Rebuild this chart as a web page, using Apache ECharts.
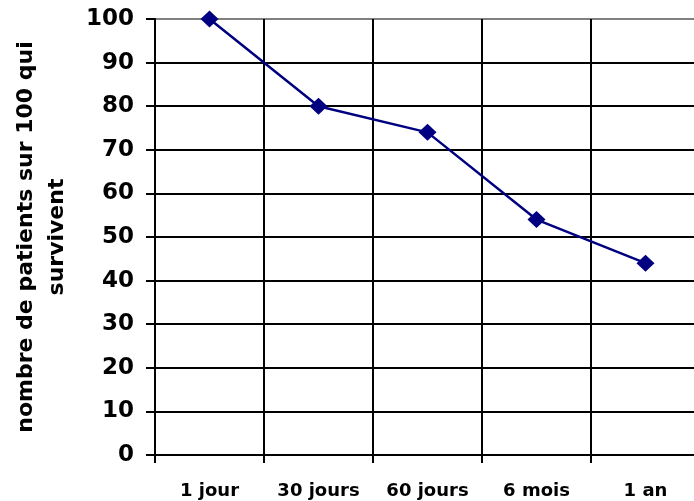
<!DOCTYPE html>
<html>
<head>
<meta charset="utf-8">
<script src="https://cdn.jsdelivr.net/npm/echarts@6/dist/echarts.min.js"></script>
<style>
  html, body { margin: 0; padding: 0; background: #fff; }
  #chart { width: 694px; height: 501px; }
</style>
</head>
<body>
<div id="chart"></div>
<script>
// periodes et survie (sur 100 patients)
const periods = ['1 jour', '30 jours', '60 jours', '6 mois', '1 an']
const survivors = [100, 80, 74, 54, 44]
const yTitle = 'nombre de patients sur 100 qui\nsurvivent'

const FONT = 'DejaVu Sans'

// lignes horizontales noires, celle du haut grise (bord de la zone)
const hLineColors = ['#000', '#000', '#000', '#000', '#000', '#000', '#000', '#000', '#000', '#000', '#808080']

const chart = echarts.init(document.getElementById('chart'), null, {renderer: 'canvas'})

chart.setOption({
  backgroundColor: '#ffffff',
  animation: false,
  grid: {
    left: 155,
    top: 19,
    width: 545, // la zone depasse un peu a droite, comme dans l'original
    bottom: 46,
    containLabel: false,
    outerBoundsMode: 'none',
  },
  xAxis: {
    type: 'category',
    data: periods,
    boundaryGap: true,
    axisLine: {show: true, lineStyle: {color: '#000', width: 2}},
    axisTick: {show: true, inside: false, length: 8, lineStyle: {color: '#000', width: 2}},
    axisLabel: {
      margin: 27,
      fontFamily: FONT,
      fontWeight: 'bold',
      fontSize: 18,
      color: '#000',
    },
    splitLine: {show: true, lineStyle: {color: '#000', width: 2}},
  },
  yAxis: {
    type: 'value',
    min: 0,
    max: 100,
    interval: 10,
    name: yTitle,
    nameLocation: 'middle',
    nameGap: 82,
    nameRotate: 90,
    nameTextStyle: {
      fontFamily: FONT,
      fontWeight: 'bold',
      fontSize: 22,
      lineHeight: 31,
      color: '#000',
      align: 'center',
    },
    axisLine: {show: true, lineStyle: {color: '#000', width: 2}},
    axisTick: {show: true, inside: false, length: 9, lineStyle: {color: '#000', width: 2}},
    axisLabel: {
      margin: 21,
      fontFamily: FONT,
      fontWeight: 'bold',
      fontSize: 23,
      color: '#000',
    },
    splitLine: {show: true, lineStyle: {color: hLineColors, width: 2}},
  },
  series: [
    {
      type: 'line',
      data: survivors,
      symbol: 'diamond',
      symbolSize: [18, 17],
      lineStyle: {color: '#000080', width: 2.5},
      itemStyle: {color: '#000080'},
    },
  ],
})
</script>
</body>
</html>
